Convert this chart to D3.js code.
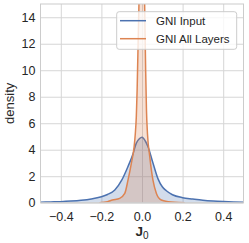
<!DOCTYPE html>
<html><head><meta charset="utf-8">
<script src="https://cdn.jsdelivr.net/npm/d3@7/dist/d3.min.js"></script>
<style>
html,body{margin:0;padding:0;background:#fff;}
svg{display:block;font-family:"Liberation Sans",Arial,sans-serif;}
</style></head>
<body>
<svg id="chart" width="249" height="243"></svg>
<script>
const seriesNames = ["GNI Input", "GNI All Layers"];
const seriesColors = ["#4C72B0", "#DD8452"];
const xTicks = [-0.4, -0.2, 0.0, 0.2, 0.4];
const yTicks = [0, 2, 4, 6, 8, 10, 12, 14];

const inputX = [-0.5,-0.45,-0.4,-0.35,-0.3,-0.25,-0.2,-0.17,-0.134,-0.1,-0.07,-0.044,-0.028,-0.012,0,0.008,0.03,0.054,0.079,0.1,0.12,0.15,0.2,0.25,0.3,0.35,0.4,0.45,0.5];
const inputY = [0.04,0.06,0.08,0.12,0.18,0.28,0.45,0.62,0.96,1.7,2.7,3.7,4.5,4.85,4.95,4.85,4.2,3.0,1.8,1.2,0.9,0.6,0.38,0.28,0.19,0.13,0.09,0.06,0.04];

const allX = [-0.21,-0.17,-0.146,-0.11,-0.085,-0.069,-0.052,-0.039,-0.033,-0.028,-0.024,-0.015,-0.008,0,0.006,0.013,0.018,0.022,0.027,0.038,0.054,0.071,0.095,0.13,0.16,0.21];
const allY = [0.0,0.08,0.2,0.33,0.7,1.7,3.0,4.2,5.2,6.5,8.5,15,22,26,22,15,10,7,5.2,3.5,1.7,0.7,0.2,0.08,0.03,0.0];

const svg = d3.select("#chart");
const margin = {left: 40.5, right: 5.5, top: 4, bottom: 40.3};
const W = 249, H = 243;
const x = d3.scaleLinear().domain([-0.5, 0.5]).range([margin.left, W - margin.right]);
const y = d3.scaleLinear().domain([0, 15]).range([H - margin.bottom, margin.top]);

const gridColor = "#d6d6d6";
const textColor = "#262626";

// grid
const gx = svg.append("g").attr("transform", `translate(0,${y(0)})`)
  .call(d3.axisBottom(x).tickValues(xTicks).tickSize(-(y(0) - y(15))).tickPadding(9)
    .tickFormat(d => d3.format(".1f")(d).replace("-", "\u2212")));
const gy = svg.append("g").attr("transform", `translate(${x(-0.5)},0)`)
  .call(d3.axisLeft(y).tickValues(yTicks).tickSize(-(x(0.5) - x(-0.5))).tickPadding(5)
    .tickFormat(d3.format("d")));
[gx, gy].forEach(g => {
  g.select(".domain").remove();
  g.selectAll(".tick line").attr("stroke", gridColor).attr("stroke-width", 1);
  g.selectAll(".tick text").attr("fill", textColor).style("font-size", "12.5px")
    .style("font-family", "'Liberation Sans',Arial,sans-serif");
});

// clip
svg.append("clipPath").attr("id", "clip").append("rect")
  .attr("x", x(-0.5)).attr("y", y(15)).attr("width", x(0.5) - x(-0.5)).attr("height", y(0) - y(15));

const plot = svg.append("g").attr("clip-path", "url(#clip)");
const datasets = [
  inputX.map((v, i) => [v, inputY[i]]),
  allX.map((v, i) => [v, allY[i]])
];
const area = d3.area().x(d => x(d[0])).y0(y(0)).y1(d => y(d[1])).curve(d3.curveMonotoneX);
const line = d3.line().x(d => x(d[0])).y(d => y(d[1])).curve(d3.curveMonotoneX);
datasets.forEach((data, i) => {
  plot.append("path").datum(data).attr("d", area)
    .attr("fill", seriesColors[i]).attr("fill-opacity", 0.25);
  plot.append("path").datum(data).attr("d", line)
    .attr("fill", "none").attr("stroke", seriesColors[i]).attr("stroke-width", 1.5);
});

// spines
svg.append("rect").attr("x", x(-0.5)).attr("y", y(15)).attr("width", x(0.5) - x(-0.5)).attr("height", y(0) - y(15))
  .attr("fill", "none").attr("stroke", "#cccccc").attr("stroke-width", 1);

// labels
svg.append("text").attr("transform", `translate(14,${(y(0) + y(15)) / 2}) rotate(-90)`)
  .attr("text-anchor", "middle").attr("fill", textColor).style("font-size", "13px").text("density");
const xl = svg.append("text").attr("x", x(0)).attr("y", 236).attr("text-anchor", "middle")
  .attr("fill", textColor).style("font-size", "13.5px");
xl.append("tspan").style("font-weight", "bold").text("J");
xl.append("tspan").attr("dy", 3).style("font-size", "10px").text("0");

// legend
const lg = svg.append("g");
lg.append("rect").attr("x", 116.7).attr("y", 11.7).attr("width", 120).attr("height", 37.6)
  .attr("rx", 2.5).attr("fill", "#fff").attr("fill-opacity", 0.8).attr("stroke", "#cccccc").attr("stroke-width", 1);
seriesNames.forEach((name, i) => {
  const yy = 20.7 + i * 18;
  lg.append("line").attr("x1", 120).attr("x2", 146).attr("y1", yy).attr("y2", yy)
    .attr("stroke", seriesColors[i]).attr("stroke-width", 1.5);
  lg.append("text").attr("x", 156).attr("y", yy + 4.2).attr("fill", textColor)
    .style("font-size", "11.5px").text(name);
});
</script>
</body></html>
